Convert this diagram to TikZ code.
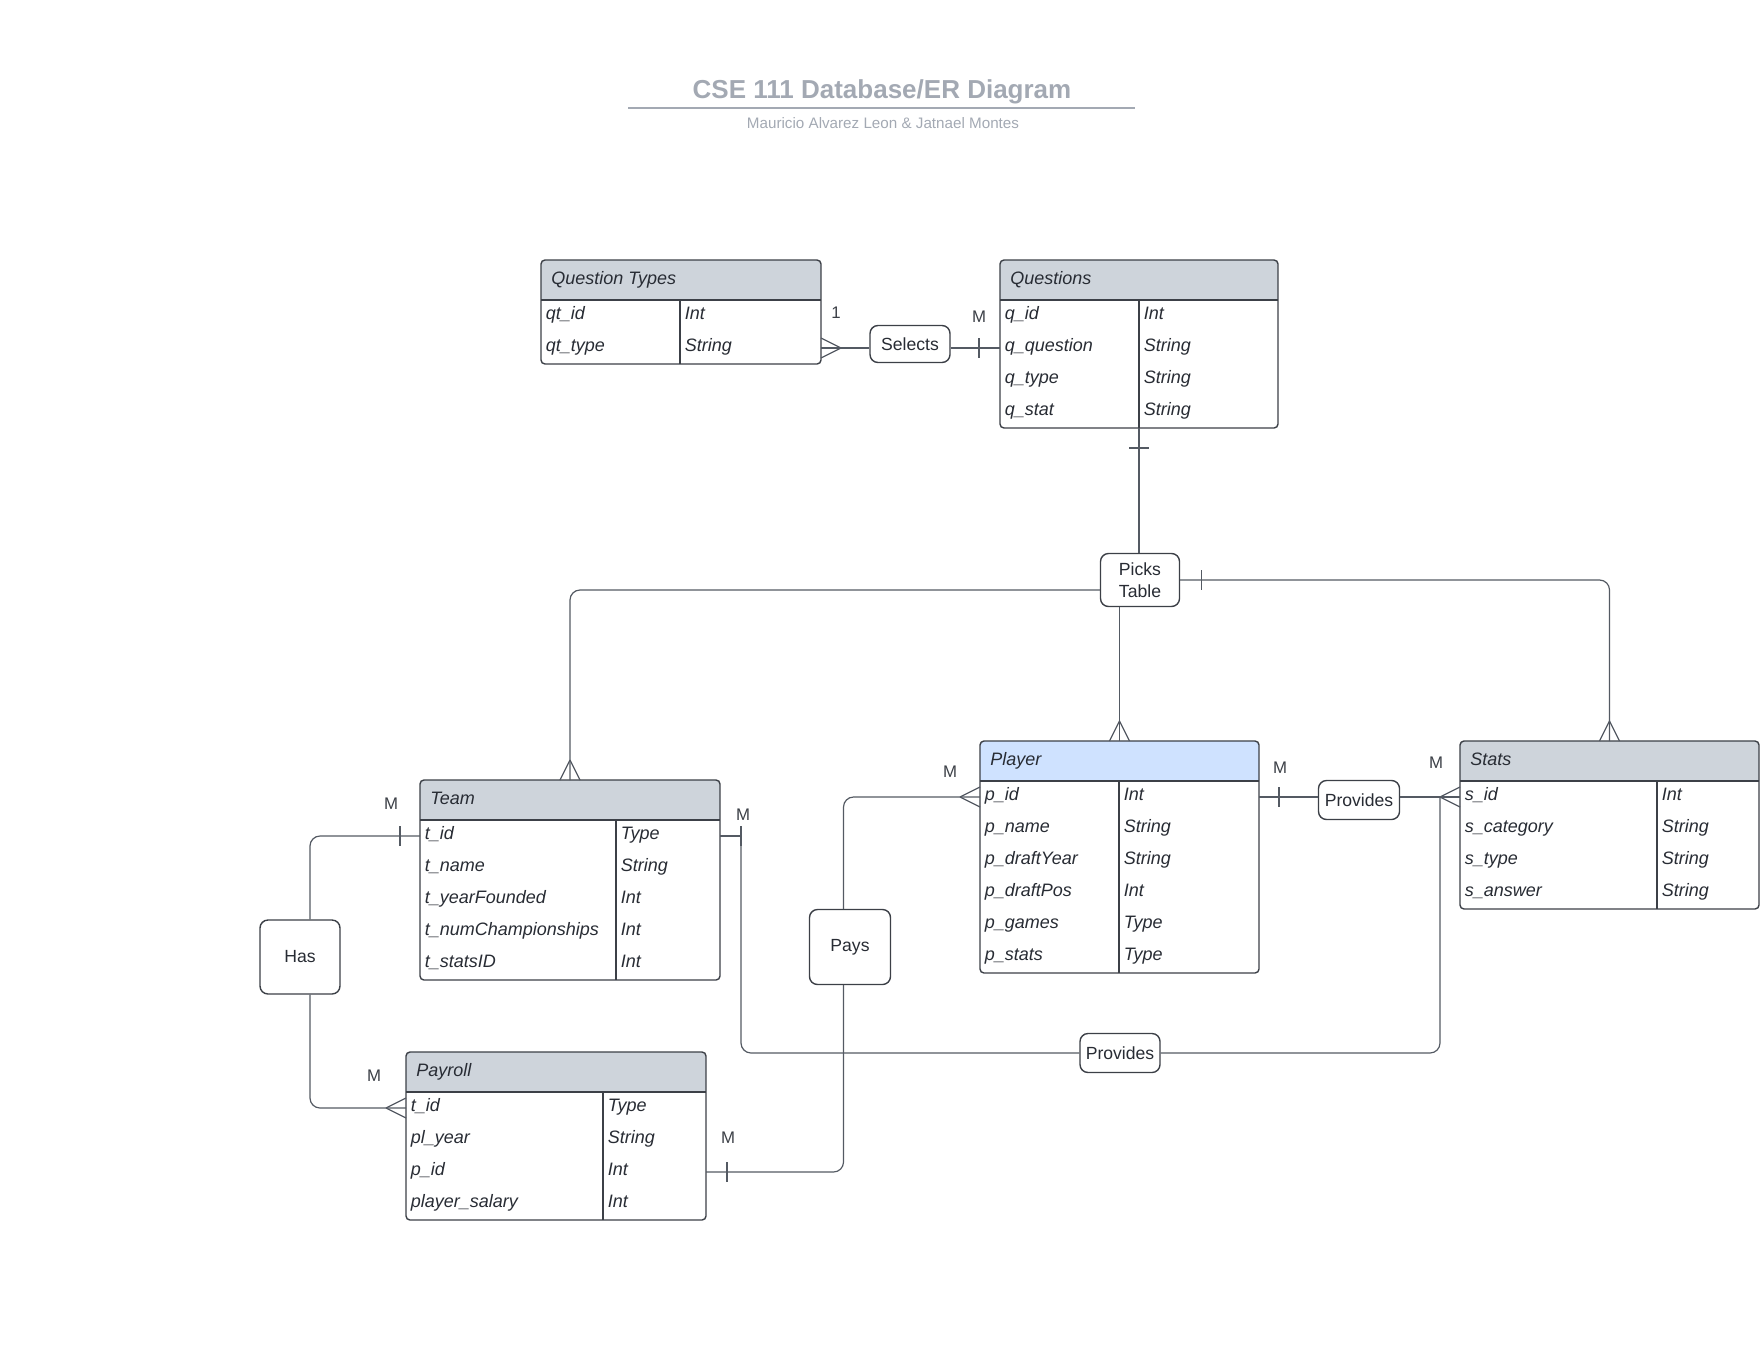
\documentclass[tikz,border=0pt]{standalone}
\usepackage{fontspec}
\setmainfont{Liberation Sans}
\usepackage{tikz}
\usetikzlibrary{calc}
\definecolor{erLine}{RGB}{60,64,71}
\definecolor{erConn}{RGB}{84,90,99}
\definecolor{erText}{RGB}{40,44,52}
\definecolor{erHead}{RGB}{206,212,219}
\definecolor{erBlue}{RGB}{207,226,255}
\definecolor{erTitle}{RGB}{163,169,179}

\begin{document}
\begin{tikzpicture}[x=0.5pt, y=-0.5pt]
  \tikzset{
    ertable/.style={draw=erLine, line width=0.7pt, fill=white, rounded corners=2pt, anchor=north west, inner sep=0pt, outer sep=0pt,
      path picture={\fill[#1, sharp corners] (path picture bounding box.north west) rectangle ([yshift=-20pt]path picture bounding box.north east);}},
    ertable/.default=erHead,
    rule/.style={draw=erLine, line width=0.7pt},
    conn/.style={draw=erConn, line width=0.6pt, rounded corners=5pt},
    relbox/.style={draw=erLine, line width=0.7pt, fill=white, rounded corners=4pt, align=center, text=erText, inner sep=0pt, font=\fontsize{8.8}{10.8}\selectfont},
    cell/.style={anchor=base west, inner sep=0pt, text=erText, font=\fontsize{9}{10}\selectfont\itshape},
    card/.style={inner sep=0pt, text=erLine, font=\fontsize{8.4}{10}\selectfont},
    crowfoot/.pic={\draw[conn] (-20,0) -- (0,-10) (-20,0) -- (0,10);},
    onebar/.pic={\draw[conn] (0,-10) -- (0,10);}
  }
  \useasboundingbox (0,0) rectangle (1760,1360);

  \node[text=erTitle, font=\fontsize{13}{15}\selectfont\bfseries] (title) at (882,92) {CSE 111 Database/ER Diagram};
  \draw[erTitle, line width=1pt] (628,108) -- (1135,108);
  \node[text=erTitle, font=\fontsize{7.6}{9}\selectfont] (authors) at (883,123) {Mauricio Alvarez Leon \& Jatnael Montes};

  % Question Types
  \node[ertable, minimum width=140pt, minimum height=52pt] (qtypes) at (541,260) {};
  \node[cell] (qtypes-name) at ([xshift=5pt, yshift=-12pt]qtypes.north west) {Question Types};
  \draw[rule] ([yshift=-20pt]qtypes.north west) -- ([yshift=-20pt]qtypes.north east);
  \draw[rule] ([xshift=69.5pt, yshift=-20pt]qtypes.north west) -- ([xshift=69.5pt]qtypes.south west);
  \foreach \fld/\typ [count=\i] in {qt\_id/Int, qt\_type/String} {
    \coordinate (qtypes-\i) at ([yshift={-12pt-\i*16pt}]qtypes.north west);
    \node[cell] (qtypes-k\i) at ([xshift=2.25pt, yshift=-1.9pt]qtypes-\i) {\fld};
    \node[cell] (qtypes-t\i) at ([xshift=71.75pt, yshift=-1.9pt]qtypes-\i) {\typ};
  }

  % Questions
  \node[ertable, minimum width=139pt, minimum height=84pt] (quest) at (1000,260) {};
  \node[cell] (quest-name) at ([xshift=5pt, yshift=-12pt]quest.north west) {Questions};
  \draw[rule] ([yshift=-20pt]quest.north west) -- ([yshift=-20pt]quest.north east);
  \draw[rule] ([xshift=69.5pt, yshift=-20pt]quest.north west) -- ([xshift=69.5pt]quest.south west);
  \foreach \fld/\typ [count=\i] in {q\_id/Int, q\_question/String, q\_type/String, q\_stat/String} {
    \coordinate (quest-\i) at ([yshift={-12pt-\i*16pt}]quest.north west);
    \node[cell] (quest-k\i) at ([xshift=2.25pt, yshift=-1.9pt]quest-\i) {\fld};
    \node[cell] (quest-t\i) at ([xshift=71.75pt, yshift=-1.9pt]quest-\i) {\typ};
  }

  % Team
  \node[ertable, minimum width=150pt, minimum height=100pt] (team) at (420,780) {};
  \node[cell] (team-name) at ([xshift=5pt, yshift=-12pt]team.north west) {Team};
  \draw[rule] ([yshift=-20pt]team.north west) -- ([yshift=-20pt]team.north east);
  \draw[rule] ([xshift=98pt, yshift=-20pt]team.north west) -- ([xshift=98pt]team.south west);
  \foreach \fld/\typ [count=\i] in {t\_id/Type, t\_name/String, t\_yearFounded/Int, t\_numChampionships/Int, t\_statsID/Int} {
    \coordinate (team-\i) at ([yshift={-12pt-\i*16pt}]team.north west);
    \node[cell] (team-k\i) at ([xshift=2.25pt, yshift=-1.9pt]team-\i) {\fld};
    \node[cell] (team-t\i) at ([xshift=100.25pt, yshift=-1.9pt]team-\i) {\typ};
  }

  % Player
  \node[ertable=erBlue, minimum width=139.5pt, minimum height=116pt] (player) at (980,741) {};
  % \node[ertable, minimum width=139.5pt, minimum height=116pt] (player) at (980,741) {};
  \node[cell] (player-name) at ([xshift=5pt, yshift=-12pt]player.north west) {Player};
  \draw[rule] ([yshift=-20pt]player.north west) -- ([yshift=-20pt]player.north east);
  \draw[rule] ([xshift=69.5pt, yshift=-20pt]player.north west) -- ([xshift=69.5pt]player.south west);
  \foreach \fld/\typ [count=\i] in {p\_id/Int, p\_name/String, p\_draftYear/String, p\_draftPos/Int, p\_games/Type, p\_stats/Type} {
    \coordinate (player-\i) at ([yshift={-12pt-\i*16pt}]player.north west);
    \node[cell] (player-k\i) at ([xshift=2.25pt, yshift=-1.9pt]player-\i) {\fld};
    \node[cell] (player-t\i) at ([xshift=71.75pt, yshift=-1.9pt]player-\i) {\typ};
  }

  % Stats
  \node[ertable, minimum width=149.5pt, minimum height=84pt] (stats) at (1460,741) {};
  \node[cell] (stats-name) at ([xshift=5pt, yshift=-12pt]stats.north west) {Stats};
  \draw[rule] ([yshift=-20pt]stats.north west) -- ([yshift=-20pt]stats.north east);
  \draw[rule] ([xshift=98.5pt, yshift=-20pt]stats.north west) -- ([xshift=98.5pt]stats.south west);
  \foreach \fld/\typ [count=\i] in {s\_id/Int, s\_category/String, s\_type/String, s\_answer/String} {
    \coordinate (stats-\i) at ([yshift={-12pt-\i*16pt}]stats.north west);
    \node[cell] (stats-k\i) at ([xshift=2.25pt, yshift=-1.9pt]stats-\i) {\fld};
    \node[cell] (stats-t\i) at ([xshift=100.75pt, yshift=-1.9pt]stats-\i) {\typ};
  }

  % Payroll
  \node[ertable, minimum width=150pt, minimum height=84pt] (payroll) at (406,1052) {};
  \node[cell] (payroll-name) at ([xshift=5pt, yshift=-12pt]payroll.north west) {Payroll};
  \draw[rule] ([yshift=-20pt]payroll.north west) -- ([yshift=-20pt]payroll.north east);
  \draw[rule] ([xshift=98.5pt, yshift=-20pt]payroll.north west) -- ([xshift=98.5pt]payroll.south west);
  \foreach \fld/\typ [count=\i] in {t\_id/Type, pl\_year/String, p\_id/Int, player\_salary/Int} {
    \coordinate (payroll-\i) at ([yshift={-12pt-\i*16pt}]payroll.north west);
    \node[cell] (payroll-k\i) at ([xshift=2.25pt, yshift=-1.9pt]payroll-\i) {\fld};
    \node[cell] (payroll-t\i) at ([xshift=100.75pt, yshift=-1.9pt]payroll-\i) {\typ};
  }

  % relationships
  \node[relbox, minimum width=40pt, minimum height=18.5pt] (selects) at (910,344) {Selects};
  \node[relbox, minimum width=39.5pt, minimum height=26.5pt] (picks) at (1140,580) {Picks\\Table};
  \node[relbox, minimum width=40pt, minimum height=37pt] (has) at (300,957) {Has};
  \node[relbox, minimum width=40.5pt, minimum height=37.5pt] (pays) at (850,947) {Pays};
  \node[relbox, minimum width=40.5pt, minimum height=19.5pt] (provides) at (1359,800) {Provides};
  \node[relbox, minimum width=40pt, minimum height=19.5pt] (provides2) at (1120,1053) {Provides};

  \coordinate (tcorner) at ($(team.east |- team-1)+(21,0)$);
  \coordinate (svertex) at ($(stats.west |- stats-1)+(-20,0)$);

  \draw[conn] (qtypes.east |- qtypes-2) -- (selects.west |- qtypes-2);
  \draw[conn] (selects.east |- quest-2) -- (quest.west |- quest-2);
  \draw[conn] (quest.south) -- (quest.south |- picks.north);
  \draw[conn] ([yshift=-5pt]picks.west) -| (team.north);
  \draw[conn] (player.north |- picks.south) -- (player.north);
  \draw[conn] (picks.east) -| (stats.north);
  \draw[conn] ([xshift=5pt]has.north) |- (team.west |- team-1);
  \draw[conn] ([xshift=5pt]has.south) |- (payroll.west |- payroll-1);
  \draw[conn] ([xshift=-3.25pt]pays.north) |- (player.west |- player-1);
  \draw[conn] ([xshift=-3.25pt]pays.south) |- (payroll.east |- payroll-3);
  \draw[conn] (player.east |- player-1) -- (provides.west |- player-1);
  \draw[conn] (provides.east |- stats-1) -- (stats.west |- stats-1);
  \draw[conn] (team.east |- team-1) -- (tcorner);
  \draw[conn] (tcorner) |- (provides2.west);
  \draw[conn] (provides2.east) -| (svertex);

  \pic[rotate=180] at (qtypes.east |- qtypes-2) {crowfoot};
  \pic[rotate=-90] at (team.north) {crowfoot};
  \pic[rotate=-90] at (player.north) {crowfoot};
  \pic[rotate=-90] at (stats.north) {crowfoot};
  \pic at (payroll.west |- payroll-1) {crowfoot};
  \pic at (player.west |- player-1) {crowfoot};
  \pic at (stats.west |- stats-1) {crowfoot};

  \pic at ($(quest.west |- quest-2)+(-21,0)$) {onebar};
  \pic[rotate=90] at ($(quest.south)+(0,20)$) {onebar};
  \pic at ($(picks.east)+(21,0)$) {onebar};
  \pic at ($(team.west |- team-1)+(-20,0)$) {onebar};
  \pic at ($(payroll.east |- payroll-3)+(21,0)$) {onebar};
  \pic at ($(player.east |- player-1)+(20,0)$) {onebar};
  \pic at (tcorner) {onebar};

  \node[card] (c-qtypes) at (836,313) {1};
  \node[card] (c-quest) at (979,317) {M};
  \node[card] (c-team-l) at (391,804) {M};
  \node[card] (c-payroll-l) at (374,1076) {M};
  \node[card] (c-team-r) at (743,815) {M};
  \node[card] (c-payroll-r) at (728,1138) {M};
  \node[card] (c-player-l) at (950,772) {M};
  \node[card] (c-player-r) at (1280,768) {M};
  \node[card] (c-stats-l) at (1436,763) {M};
\end{tikzpicture}
\end{document}
